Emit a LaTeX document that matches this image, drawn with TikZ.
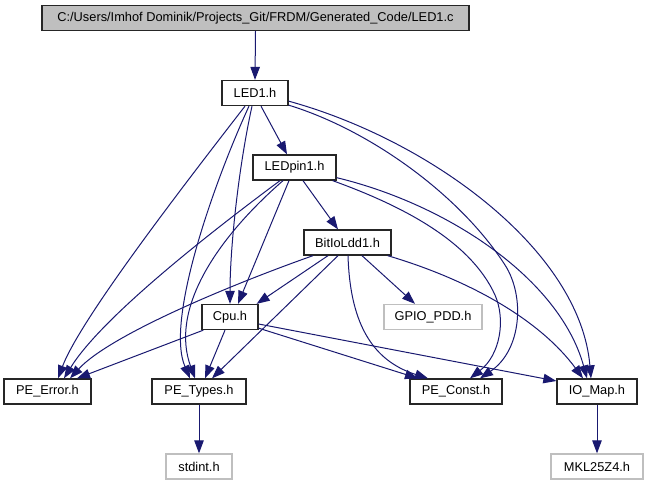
\documentclass[tikz,border=0pt]{standalone}
\usepackage{fontspec}
\setmainfont{Liberation Sans}
\usetikzlibrary{arrows.meta,calc}
\definecolor{edgec}{HTML}{191970}
\definecolor{rootfill}{HTML}{BFBFBF}
\definecolor{graybd}{HTML}{BFBFBF}
\begin{document}
\begin{tikzpicture}[x=1pt,y=-1pt,
  nd/.style={draw=black!85, fill=white, line width=1.3pt, minimum height=25pt, inner sep=0pt,
             font=\fontsize{12.8}{14}\selectfont},
  rootnd/.style={nd, fill=rootfill},
  grnd/.style={nd, draw=graybd},
  e/.style={draw=edgec, line width=1pt, -{Triangle[length=13pt,width=9.5pt]}, fill=none}]
\useasboundingbox (0,0) rectangle (645,485);

\node[rootnd, minimum width=427pt] (root) at (255.5,18) {C:/Users/Imhof Dominik/Projects\_Git/FRDM/Generated\_Code/LED1.c};
\node[nd, minimum width=66pt] (led1) at (255,93) {LED1.h};
\node[nd, minimum width=83pt] (ledpin1) at (294.5,167.5) {LEDpin1.h};
\node[nd, minimum width=87pt] (bitio) at (347.5,242.5) {BitIoLdd1.h};
\node[nd, minimum width=56pt] (cpu) at (230,317) {Cpu.h};
\node[grnd, minimum width=98pt] (gpio) at (433,317) {GPIO\_PDD.h};
\node[nd, minimum width=87pt] (peerror) at (47.5,391.5) {PE\_Error.h};
\node[nd, minimum width=94pt] (petypes) at (199,391.5) {PE\_Types.h};
\node[nd, minimum width=92pt] (peconst) at (456,391.5) {PE\_Const.h};
\node[nd, minimum width=80pt] (iomap) at (597,391.5) {IO\_Map.h};
\node[grnd, minimum width=66pt] (stdint) at (199,466.5) {stdint.h};
\node[grnd, minimum width=92pt] (mkl) at (597,466.5) {MKL25Z4.h};

% root
\draw[e] (root.south) -- (led1.north);
% LED1.h
\draw[e] ($(led1.south)+(6,0)$) -- ($(ledpin1.north)+(-7.5,0)$);
\draw[e] ($(led1.south)+(-10,0)$) .. controls (180,190) and (80,320) .. ($(peerror.north)+(10.5,0)$);
\draw[e] ($(led1.south)+(-6,0)$) .. controls (215,180) and (165,320) .. ($(petypes.north)+(-9,0)$);
\draw[e] ($(led1.south)+(-3,0)$) .. controls (238,170) and (230,250) .. (cpu.north);
\draw[e] ($(led1.south east)+(0,-1)$) .. controls (370,130) and (460,195) .. (505,265)
   .. controls (525,296) and (522,350) .. ($(peconst.north)+(24,0)$);
\draw[e] ($(led1.south east)+(0,-5)$) .. controls (430,140) and (580,250) .. ($(iomap.north)+(-6,0)$);
% LEDpin1.h
\draw[e] ($(ledpin1.south)+(8.5,0)$) -- ($(bitio.north)+(-9.5,0)$);
\draw[e] ($(ledpin1.south)+(-14.5,0)$) .. controls (200,240) and (100,320) .. ($(peerror.north)+(16.5,0)$);
\draw[e] ($(ledpin1.south)+(-11.5,0)$) .. controls (215,240) and (170,310) .. ($(petypes.north)+(-4,0)$);
\draw[e] ($(ledpin1.south)+(-5.5,0)$) -- ($(cpu.north)+(8,0)$);
\draw[e] ($(ledpin1.south east)+(-4,0)$) .. controls (400,205) and (470,240) .. (495,295)
   .. controls (506,320) and (500,355) .. ($(peconst.north)+(14,0)$);
\draw[e] ($(ledpin1.south east)+(0,-3)$) .. controls (450,205) and (560,280) .. ($(iomap.north)+(-10,0)$);
% BitIoLdd1.h
\draw[e] ($(bitio.south)+(-19.5,0)$) -- ($(cpu.north east)+(-2,0)$);
\draw[e] ($(bitio.south)+(-34.5,0)$) .. controls (230,285) and (110,335) .. ($(peerror.north)+(22.5,0)$);
\draw[e] ($(bitio.south)+(-9.5,0)$) -- ($(petypes.north)+(13,0)$);
\draw[e] ($(bitio.south)+(0.5,0)$) .. controls (350,320) and (370,360) .. ($(peconst.north)+(-28,0)$);
\draw[e] ($(bitio.south)+(14.5,0)$) -- ($(gpio.north)+(-18,0)$);
\draw[e] ($(bitio.south east)+(-4,0)$) .. controls (470,280) and (540,320) .. ($(iomap.north)+(-14,0)$);
% Cpu.h
\draw[e] ($(cpu.south west)+(2,0)$) -- ($(peerror.north)+(29.5,0)$);
\draw[e] ($(cpu.south)+(-5,0)$) -- ($(petypes.north)+(6,0)$);
\draw[e] ($(cpu.south east)+(0,-2)$) -- ($(peconst.north)+(-38,0)$);
\draw[e] ($(cpu.east)+(0,7)$) -- ($(iomap.west)+(0,-10.5)$);
% leaves
\draw[e] (petypes.south) -- (stdint.north);
\draw[e] (iomap.south) -- (mkl.north);
\end{tikzpicture}
\end{document}
